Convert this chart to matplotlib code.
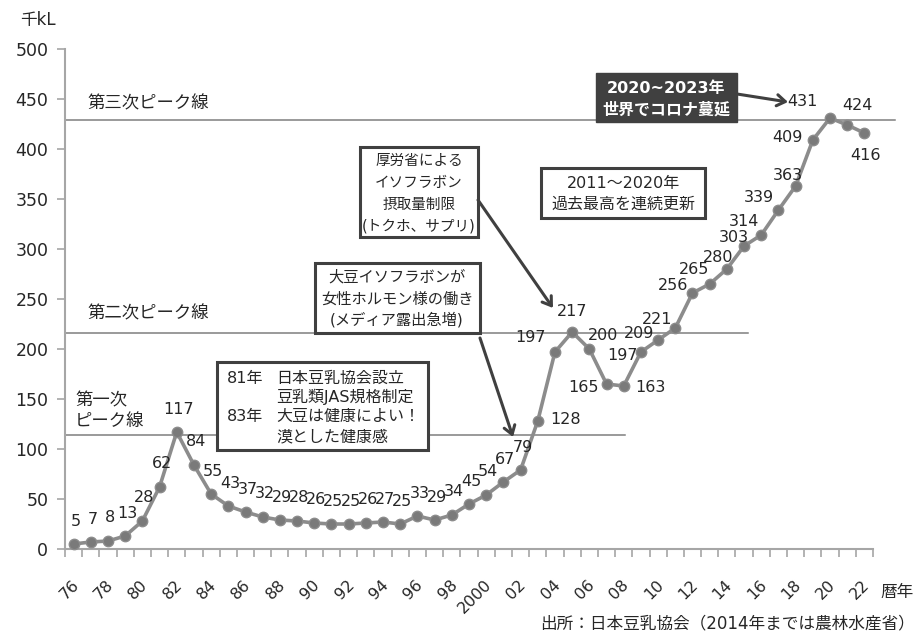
import matplotlib
matplotlib.use("Agg")
import matplotlib.pyplot as plt
from matplotlib.patches import Rectangle, FancyArrowPatch
from matplotlib.transforms import ScaledTranslation

plt.rcParams['font.family'] = ['DejaVu Sans', 'Noto Sans CJK JP']

# 豆乳の生産量（千kL）
years = list(range(1976, 2023))
volume = [5, 7, 8, 13, 28, 62, 117, 84, 55, 43, 37, 32, 29, 28, 26, 25, 25, 26, 27, 25,
          33, 29, 34, 45, 54, 67, 79, 128, 197, 217, 200, 165, 163, 197, 209, 221,
          256, 265, 280, 303, 314, 339, 363, 409, 431, 424, 416]

tick_years = list(range(1976, 2023, 2))
tick_labels = ['76', '78', '80', '82', '84', '86', '88', '90', '92', '94', '96', '98',
               '2000', '02', '04', '06', '08', '10', '12', '14', '16', '18', '20', '22']

# ピーク線の水準
peak_levels = [114, 216, 429]

# データラベルの位置調整（ピクセル、右・上が正）
label_offsets = {
    2003: (28, 1), 2004: (-24, 14), 2005: (0, 21), 2006: (14, 14),
    2007: (-23, -4), 2008: (27, -1), 2009: (-18, -4), 2010: (-19, 7),
    2011: (-18, 9), 2012: (-19, 7), 2013: (-16, 15), 2014: (-9, 12),
    2015: (-10, 8), 2016: (-17, 13), 2017: (-20, 12), 2018: (-8, 11),
    2019: (-25, 3), 2020: (-28, 17), 2021: (10, 20), 2022: (1, -23),
}

W, H = 917, 635
fig = plt.figure(figsize=(W / 100, H / 100), dpi=100)
ax = fig.add_axes([65 / W, (H - 549) / H, (873 - 65) / W, 500 / H])

ax.set_xlim(1975.5, 2022.5)
ax.set_ylim(0, 500)

def px(x, y):
    """figure pixel (top-left origin) -> figure fraction"""
    return (x / W, 1 - y / H)

# ピーク線
x_ends = [2008.06, 2015.2, 2023.76]
for lvl, xe in zip(peak_levels, x_ends):
    ax.plot([1975.5, xe], [lvl, lvl], color='#7f7f7f', lw=1.1, clip_on=False, zorder=1)

# 折れ線
ax.plot(years, volume, color='#8c8c8c', lw=2.6, marker='o', markersize=7.5,
        markerfacecolor='#7a7a7a', markeredgecolor='#8c8c8c', markeredgewidth=1,
        zorder=3, clip_on=False)

for yr, v in zip(years, volume):
    dx, dy = label_offsets.get(yr, (2, 23))
    ax.annotate(str(v), (yr, v), xytext=(dx, dy), textcoords='offset pixels',
                ha='center', va='center', fontsize=11.5, color='#262626', zorder=4)

# 軸
for s in ['top', 'right']:
    ax.spines[s].set_visible(False)
for s in ['left', 'bottom']:
    ax.spines[s].set_color('#a6a6a6')
    ax.spines[s].set_linewidth(1.5)

ax.set_yticks(range(0, 501, 50))
ax.tick_params(axis='y', direction='out', length=6, width=1.2, color='#a6a6a6',
               labelsize=12.5, labelcolor='#262626', pad=6)

ax.set_xticks(tick_years)
ax.set_xticklabels(tick_labels, rotation=45, ha='right', va='center',
                   rotation_mode='anchor', fontsize=11.5, color='#262626')
ax.set_xticks([y + 0.5 for y in range(1975, 2023)], minor=True)
ax.tick_params(axis='x', which='major', length=0, pad=24)
ax.tick_params(axis='x', which='minor', direction='out', length=6, width=1.2,
               color='#a6a6a6')
shift = ScaledTranslation(3 / 100, 0, fig.dpi_scale_trans)
for lab in ax.get_xticklabels():
    lab.set_transform(lab.get_transform() + shift)

# 文字
fig.text(*px(20, 20), '千kL', fontsize=12, ha='left', va='center', color='#262626')
fig.text(*px(880, 592), '暦年', fontsize=12, ha='left', va='center', color='#262626')
fig.text(*px(915, 623), '出所：日本豆乳協会（2014年までは農林水産省）', fontsize=12,
         ha='right', va='center', color='#262626')
fig.text(*px(87, 103), '第三次ピーク線', fontsize=12.5, ha='left', va='center', color='#262626')
fig.text(*px(87, 313), '第二次ピーク線', fontsize=12.5, ha='left', va='center', color='#262626')
fig.text(*px(75, 400), '第一次', fontsize=12.5, ha='left', va='center', color='#262626')
fig.text(*px(75, 421), 'ピーク線', fontsize=12.5, ha='left', va='center', color='#262626')

def box(x0, y0, x1, y1, face='white', edge='#404040', lw=2.2):
    r = Rectangle(px(x0, y1), (x1 - x0) / W, (y1 - y0) / H, transform=fig.transFigure,
                  facecolor=face, edgecolor=edge, lw=lw, zorder=5)
    fig.add_artist(r)

def arrow(x0, y0, x1, y1):
    a = FancyArrowPatch(px(x0, y0), px(x1, y1), transform=fig.transFigure,
                        arrowstyle='->,head_length=6,head_width=4', color='#404040',
                        lw=2.2, shrinkA=0, shrinkB=0, zorder=6)
    fig.add_artist(a)

def lines(x, ys, texts, ha='center', color='#262626', weight='normal', size=11.5):
    for y, t in zip(ys, texts):
        fig.text(*px(x, y), t, fontsize=size, ha=ha, va='center', color=color,
                 fontweight=weight, zorder=7)

# 81年・83年
box(217, 362, 428, 450)
lines(227, [378, 416], ['81年', '83年'], ha='left')
lines(276, [378, 397, 416, 437],
      ['日本豆乳協会設立', '豆乳類JAS規格制定', '大豆は健康によい！', '漠とした健康感'],
      ha='left')

# 大豆イソフラボン
box(315, 263, 480, 333)
lines(397, [277, 299, 320], ['大豆イソフラボンが', '女性ホルモン様の働き', '(メディア露出急増)'],
      size=11)
arrow(480, 338, 513, 437)

# 厚労省
box(360, 147, 478, 237)
lines(419, [160, 182, 204, 226], ['厚労省による', 'イソフラボン', '摂取量制限', '(トクホ、サプリ)'],
      size=10.5)
arrow(478, 200, 553, 308)

# 2011～2020年
box(541, 168, 705, 218)
lines(623, [183, 204], ['2011～2020年', '過去最高を連続更新'])

# 2020~2023年
box(596, 73, 737, 122, face='#404040', edge='#404040', lw=1)
lines(666, [88, 110], ['2020~2023年', '世界でコロナ蔓延'], color='white', weight='bold')
arrow(737, 94, 788, 102)

fig.savefig('out.png', dpi=100)
